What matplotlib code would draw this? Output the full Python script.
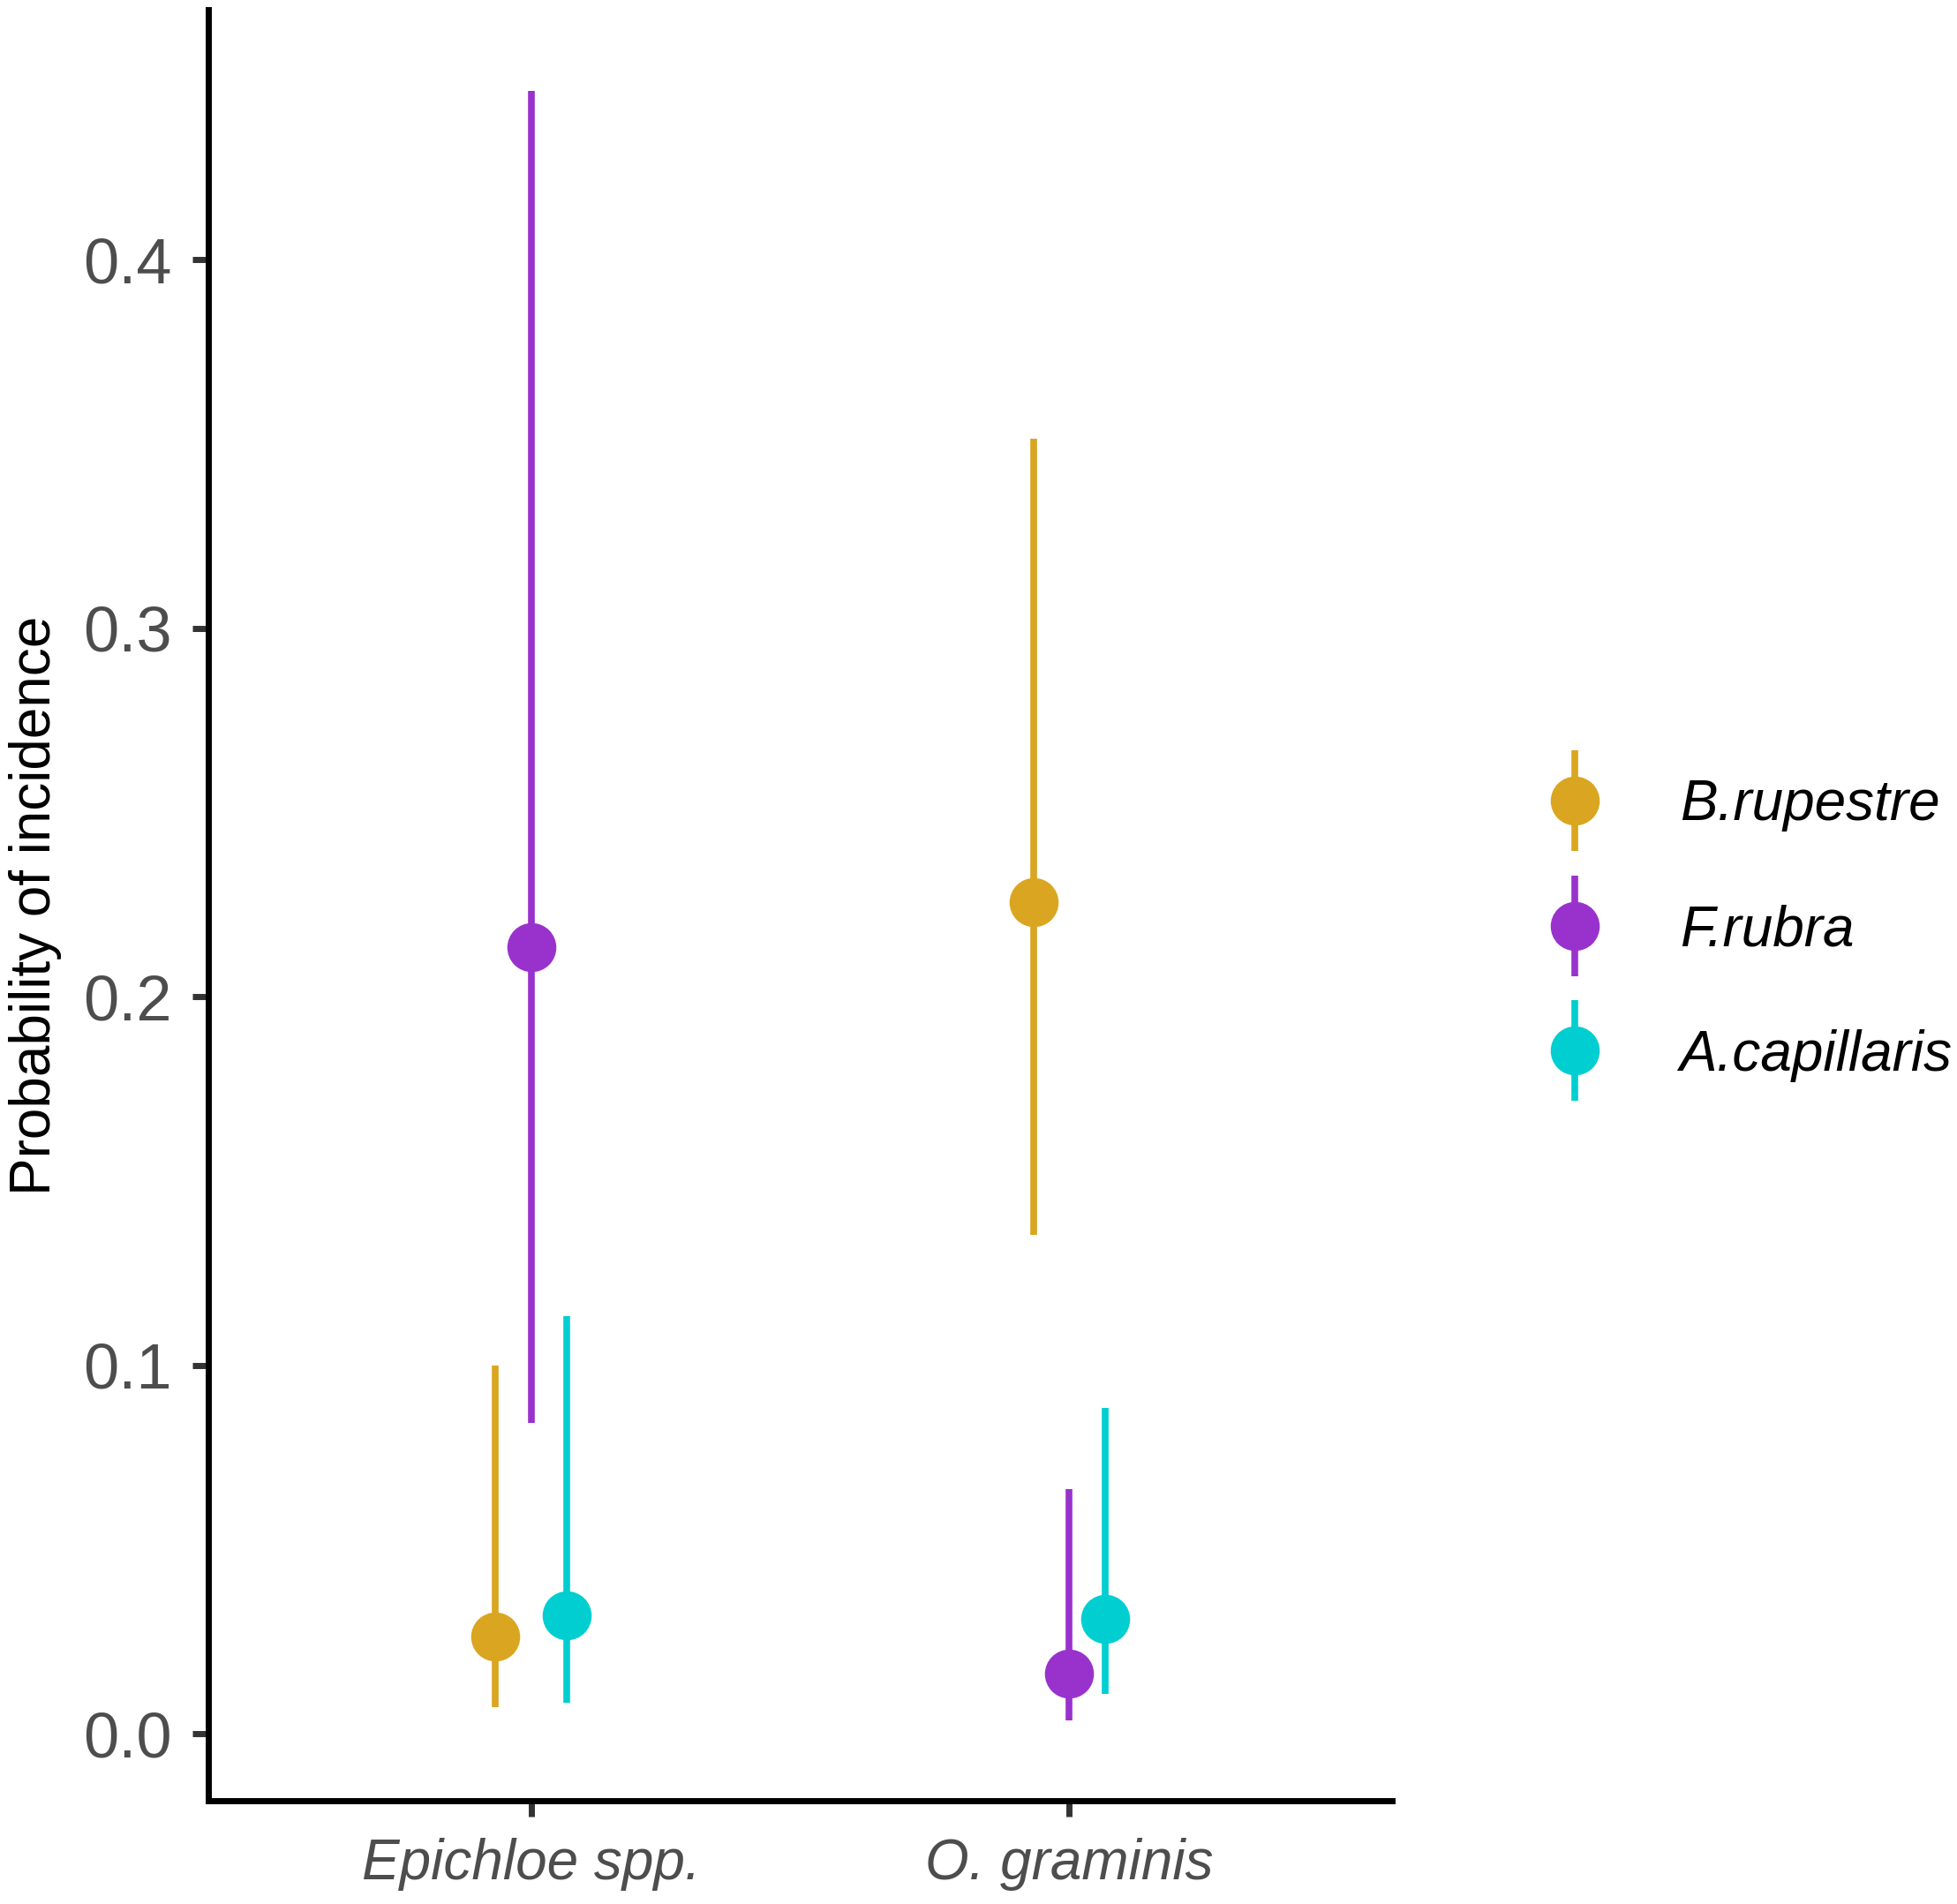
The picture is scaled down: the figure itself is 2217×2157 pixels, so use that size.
import matplotlib
matplotlib.use("Agg")
import matplotlib.pyplot as plt
from matplotlib.lines import Line2D
from matplotlib.legend_handler import HandlerTuple
import numpy as np

plt.rcParams['font.family'] = ['Liberation Sans', 'DejaVu Sans']

fungi = ["Epichloe spp.", "O. graminis"]
hosts = ["B.rupestre", "F.rubra", "A.capillaris"]
colors = ["#DAA520", "#9932CC", "#00CED1"]

# estimates per host, order follows fungi
est = {
    "B.rupestre":   [0.0264, 0.2257],
    "F.rubra":      [0.2135, 0.0162],
    "A.capillaris": [0.0321, 0.0311],
}
lower = {
    "B.rupestre":   [0.0071, 0.1354],
    "F.rubra":      [0.0843, 0.0037],
    "A.capillaris": [0.0085, 0.0108],
}
upper = {
    "B.rupestre":   [0.0998, 0.3513],
    "F.rubra":      [0.4457, 0.0663],
    "A.capillaris": [0.1134, 0.0883],
}
yticks = [0.0, 0.1, 0.2, 0.3, 0.4]

W, H = 2217, 2157
fig = plt.figure(figsize=(W / 100, H / 100), dpi=100)
ax_l, ax_r, ax_t, ax_b = 236, 1577, 11, 2040
ax = fig.add_axes([ax_l / W, 1 - ax_b / H, (ax_r - ax_l) / W, (ax_b - ax_t) / H])

dodge = 0.2
n = len(hosts)
xbase = np.arange(1, len(fungi) + 1)
handles = []
for i, (h, c) in enumerate(zip(hosts, colors)):
    off = (i - (n - 1) / 2) * dodge / n
    xs = xbase + off
    y = np.array(est[h])
    lo = np.array(lower[h])
    hi = np.array(upper[h])
    ax.vlines(xs, lo, hi, color=c, lw=5.5, zorder=2)
    ax.plot(xs, y, 'o', color=c, ms=40, mew=0, zorder=3)
    hv = Line2D([], [], ls='none', marker='|', ms=82, mew=5.5, color=c)
    hp = Line2D([], [], ls='none', marker='o', ms=40, mew=0, color=c)
    handles.append((hv, hp))

ax.set_xlim(0.4, 2.6)
ax.set_ylim(-0.0182, 0.4678)
ax.set_xticks(xbase)
ax.set_xticklabels(fungi, fontstyle='italic', fontsize=46, color='#4D4D4D')
ax.set_yticks(yticks)
ax.set_yticklabels([f"{v:.1f}" for v in yticks], fontsize=52, color='#4D4D4D')
ax.tick_params(axis='both', length=13, width=5, color='#333333', pad=17)

for s in ['top', 'right']:
    ax.spines[s].set_visible(False)
for s in ['left', 'bottom']:
    ax.spines[s].set_linewidth(5)
    ax.spines[s].set_color('black')

ax.set_ylabel("Probability of incidence", fontsize=46, color='black', va='center')
ax.yaxis.set_label_coords((40 - ax_l) / (ax_r - ax_l), 0.5)

leg = fig.legend(handles, hosts, handler_map={tuple: HandlerTuple(ndivide=1)},
                 loc='center left', bbox_to_anchor=(1695 / W, 1 - 1054 / H),
                 frameon=False, prop={'style': 'italic', 'size': 46},
                 labelspacing=1.28, handlelength=2.0, handletextpad=0.85,
                 borderaxespad=0)

fig.savefig("out.png", dpi=100)
